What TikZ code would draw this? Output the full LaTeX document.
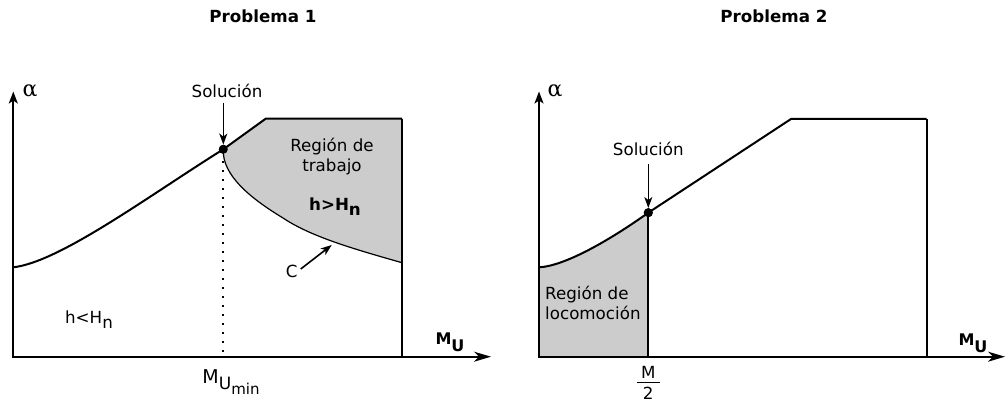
\documentclass[tikz,border=0pt]{standalone}
\usepackage{fontspec}
\setmainfont{DejaVu Sans}
\newfontfamily\grkfont{DejaVu Serif}
\usetikzlibrary{arrows.meta}
\begin{document}
\begin{tikzpicture}[x=1pt,y=-1pt,
  frame/.style={line width=2pt, line join=miter},
  curveline/.style={line width=2pt},
  thinline/.style={line width=1.2pt},
  xaxis/.style={line width=1.6pt,-{Stealth[length=17pt,width=10pt,inset=5pt]}},
  yaxis/.style={line width=2pt,-{Stealth[length=12pt,width=9pt,inset=3pt]}},
  ptr/.style={line width=1.6pt,-{Stealth[length=11pt,width=8pt,inset=3pt]}},
  lbl/.style={font=\fontsize{16.7}{20}\selectfont, inner sep=0pt},
  ttl/.style={font=\fontsize{16.7}{20}\selectfont\bfseries, inner sep=0pt},
  axlbl/.style={font=\fontsize{16}{19}\selectfont\bfseries, inner sep=0pt},
  greek/.style={font=\fontsize{22}{26}\selectfont\grkfont, inner sep=0pt},
  shade/.style={fill=black!20},
  dotmark/.style={circle, fill=black, inner sep=0pt, minimum size=9pt}
]
\useasboundingbox (0,0) rectangle (1006,403);

% ---------------- Problema 1 ----------------
\node[ttl] (t1) at (263,16) {Problema 1};
\coordinate (o1) at (13.3,356.7);
\coordinate (ytip1) at (13.3,91.5);
\coordinate (xtip1) at (491,356.7);
\coordinate (c1s) at (13.3,267.3);
\coordinate (k1) at (265.7,118.7);
\coordinate (tr1) at (402,118.7);
\coordinate (cr1) at (402,262.7);
\coordinate (br1) at (402,356.7);
\node[dotmark] (s1) at (223.3,149.3) {};

% shaded working region
\fill[shade] (s1.center) -- (k1) -- (tr1) -- (cr1)
  .. controls (350,248) and (310,236) .. (283,218)
  .. controls (250,198) and (222,175) .. (s1.center) -- cycle;
% curve C
\draw[thinline] (s1.center) .. controls (222,175) and (250,198) .. (283,218)
  .. controls (310,236) and (350,248) .. (cr1);
% main boundary
\draw[curveline] (c1s) .. controls (60,262) and (150,195) .. (s1.center) -- (k1) -- (tr1);
\draw[frame] (ytip1 |- c1s) -- (o1) -- (br1) -- (tr1);
\draw[yaxis] (o1) -- (ytip1);
\draw[xaxis] (br1) -- (xtip1);
% dotted line
\draw[line width=2pt, dash pattern=on 1.8pt off 7.2pt] (s1.center) ++(0,12) -- (223.3,355);
\node[dotmark] at (s1) {};

\node[greek] (a1) at (30,91) {α};
\node[lbl] (sol1) at (227,91) {Solución};
\coordinate (sol1a) at (223.3,103);
\draw[ptr] (sol1a) -- (s1.north);
\node[lbl, align=center] (rt) at (332,157) {Región de\\trabajo};
\node[lbl] (hg) at (335,207) {\bfseries h>H\raisebox{-5pt}{n}};
\node[lbl] (cl) at (291.7,271) {C};
\coordinate (cpt) at (331.7,245);
\draw[ptr] (cl.east) ++(3,-2) -- (cpt);
\node[lbl] (hl) at (89,320) {h<H\raisebox{-5pt}{n}};
\node[axlbl] (mu1) at (450,342) {M\raisebox{-7pt}{U}};
\node[inner sep=0pt] (mumin) at (231,382) {\fontsize{19}{22}\selectfont M\raisebox{-6pt}{\fontsize{17}{20}\selectfont U\raisebox{-5pt}{\fontsize{15}{18}\selectfont min}}};

% ---------------- Problema 2 ----------------
\node[ttl] (t2) at (774,16) {Problema 2};
\coordinate (o2) at (539,356.7);
\coordinate (ytip2) at (539,91.5);
\coordinate (xtip2) at (1005,356.7);
\coordinate (c2s) at (539,267.3);
\coordinate (k2) at (791,119);
\coordinate (tr2) at (926.7,119);
\coordinate (br2) at (926.7,356.7);
\node[dotmark] (s2) at (648.3,212.7) {};
\coordinate (m2) at (648.3,356.7);

\fill[shade] (c2s) .. controls (565,266) and (610,240) .. (s2.center) -- (m2) -- (o2) -- cycle;
\draw[curveline] (c2s) .. controls (565,266) and (610,240) .. (s2.center) -- (k2) -- (tr2);
\draw[frame] (s2.center) -- (m2);
\draw[frame] (c2s) -- (o2) -- (br2) -- (tr2);
\draw[yaxis] (o2) -- (ytip2);
\draw[xaxis] (br2) -- (xtip2);
\node[dotmark] at (s2) {};

\node[greek] (a2) at (555,91) {α};
\node[lbl] (sol2) at (648.3,149) {Solución};
\coordinate (sol2a) at (648.3,164);
\draw[ptr] (sol2a) -- (s2.north);
\node[lbl, align=left, anchor=west] (rl) at (545,303) {Región de\\locomoción};
\node[axlbl] (mu2) at (973,343) {M\raisebox{-7pt}{U}};
\node[lbl] (hm) at (648.3,372) {M};
\node[lbl] (h2) at (648.3,393) {2};
\coordinate (barl) at (637,382.5);
\coordinate (barr) at (660,382.5);
\draw[line width=1.4pt] (barl) -- (barr);
\end{tikzpicture}
\end{document}
